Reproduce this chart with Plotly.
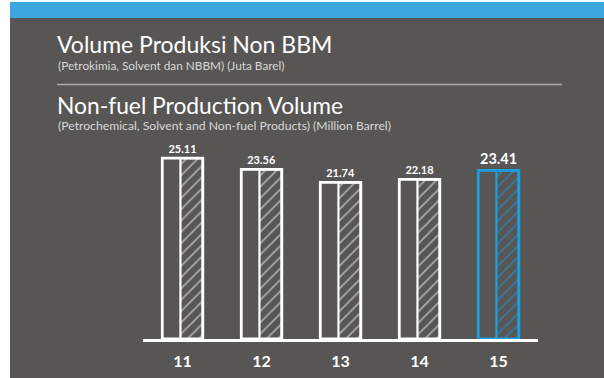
import plotly.graph_objects as go

# Production volume by year (million barrels)
years = ["11", "12", "13", "14", "15"]
volumes = [25.11, 23.56, 21.74, 22.18, 23.41]
bar_colors = ["#ffffff", "#ffffff", "#ffffff", "#ffffff", "#1c9fde"]
label_sizes = [11, 11, 11, 11, 14.5]

W, H = 604, 378
BG = "#575655"
BLUE_BAND = "#3ca6de"


def px_x(p):
    return p / W


def px_y(p):
    return 1 - p / H


fig = go.Figure()

# Full outlined bar (left part empty), carries the value label
fig.add_trace(go.Bar(
    x=years, y=volumes,
    width=0.513, offset=-0.256,
    marker=dict(color="rgba(0,0,0,0)", line=dict(color=bar_colors, width=2.8)),
    text=[f"{v:.2f}" for v in volumes],
    textposition="outside",
    textfont=dict(family="Lato", size=label_sizes, color="#ffffff", weight="bold"),
    cliponaxis=False,
    showlegend=False,
    hoverinfo="skip",
))

# Hatched right half of each bar
fig.add_trace(go.Bar(
    x=years, y=volumes,
    width=0.282, offset=-0.026,
    marker=dict(
        color="rgba(0,0,0,0)",
        line=dict(color=bar_colors, width=2.2),
        pattern=dict(shape="/", fgcolor=bar_colors, bgcolor="rgba(0,0,0,0)",
                     size=8, solidity=0.22, fillmode="overlay"),
    ),
    showlegend=False,
    hoverinfo="skip",
))

shapes = [
    # dark panel
    dict(type="rect", xref="paper", yref="paper", x0=px_x(10), x1=1, y0=0, y1=px_y(2),
         fillcolor=BG, line=dict(width=0), layer="below"),
    # blue header band
    dict(type="rect", xref="paper", yref="paper", x0=px_x(10), x1=1, y0=px_y(18), y1=px_y(2),
         fillcolor=BLUE_BAND, line=dict(width=0), layer="below"),
    # separator between the two titles
    dict(type="line", xref="paper", yref="paper", x0=px_x(57), x1=px_x(562),
         y0=px_y(84.5), y1=px_y(84.5), line=dict(color="#a9a9a8", width=1.5)),
]

title_font = dict(family="Lato", color="#ffffff")
annotations = [
    dict(text="Volume Produksi Non BBM", x=px_x(55), y=px_y(44), xref="paper", yref="paper",
         xanchor="left", yanchor="middle", showarrow=False,
         font=dict(size=23, **title_font)),
    dict(text="(Petrokimia, Solvent dan NBBM) (Juta Barel)", x=px_x(56), y=px_y(65),
         xref="paper", yref="paper", xanchor="left", yanchor="middle", showarrow=False,
         font=dict(size=11.8, family="Lato", color="#d8d8d8")),
    dict(text="Non-fuel Production Volume", x=px_x(55), y=px_y(105), xref="paper", yref="paper",
         xanchor="left", yanchor="middle", showarrow=False,
         font=dict(size=22.8, **title_font)),
    dict(text="(Petrochemical, Solvent and Non-fuel Products) (Million Barrel)", x=px_x(56),
         y=px_y(126), xref="paper", yref="paper", xanchor="left", yanchor="middle",
         showarrow=False, font=dict(size=12.2, family="Lato", color="#d8d8d8")),
]

fig.update_layout(
    width=W, height=H,
    margin=dict(l=0, r=0, t=0, b=0),
    paper_bgcolor="#ffffff",
    plot_bgcolor="rgba(0,0,0,0)",
    barmode="overlay",
    shapes=shapes,
    annotations=annotations,
    xaxis=dict(
        domain=[px_x(143), px_x(538)],
        range=[-0.5, 4.5],
        type="category",
        showgrid=False, zeroline=False,
        showline=True, linecolor="#ffffff", linewidth=3,
        ticks="outside", ticklen=6, tickcolor="rgba(0,0,0,0)",
        tickfont=dict(family="Lato", size=16, color="#ffffff", weight="bold"),
    ),
    yaxis=dict(
        domain=[px_y(339), px_y(123)],
        range=[0, 30],
        visible=False,
    ),
)

fig.write_html("out.html")
